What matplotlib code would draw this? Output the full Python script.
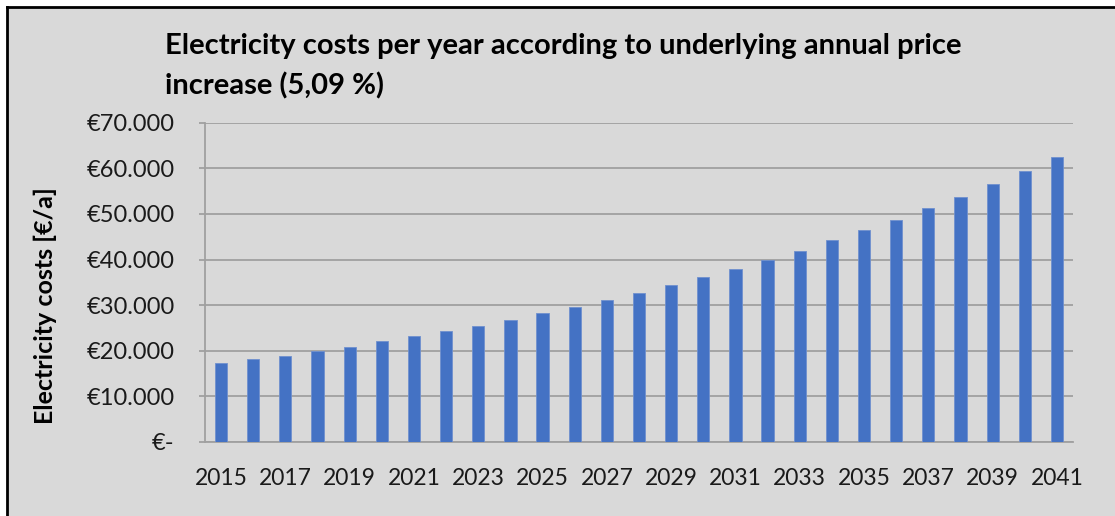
import matplotlib
matplotlib.use("Agg")
import matplotlib.pyplot as plt
from matplotlib.lines import Line2D
from matplotlib.patches import Rectangle
from matplotlib.ticker import FuncFormatter, MultipleLocator

# Annual electricity costs in euros
years = list(range(2015, 2042))
costs = [17240, 18120, 18920, 19870, 20890, 22060, 23160, 24320, 25350,
         26810, 28200, 29580, 31040, 32650, 34330, 36080, 37980, 39880,
         41930, 44190, 46460, 48720, 51200, 53760, 56540, 59310, 62380]

title = "Electricity costs per year according to underlying annual price\nincrease (5,09 %)"
y_label = "Electricity costs [€/a]"

BG = "#d9d9d9"
BAR = "#4472c4"
GRID = "#a0a0a0"
FONT = "Lato"

W, H = 1115, 516
fig = plt.figure(figsize=(W / 100, H / 100), dpi=100, facecolor="white")

# chart area with black frame on top and left
fig.add_artist(Rectangle((7 / W, 0), 1, 1 - 7 / H, transform=fig.transFigure,
                         facecolor=BG, edgecolor="none", zorder=0))
fig.add_artist(Line2D([7 / W, 1], [1 - 7 / H, 1 - 7 / H], transform=fig.transFigure,
                      color="black", lw=2, zorder=1))
fig.add_artist(Line2D([7 / W, 7 / W], [0, 1 - 7 / H], transform=fig.transFigure,
                      color="black", lw=2, zorder=1))

ax = fig.add_axes([205 / W, 1 - 442 / H, (1073 - 205) / W, (442 - 122.7) / H])
ax.set_facecolor("none")

x = list(range(len(years)))
ax.bar(x, costs, width=0.38, color=BAR, edgecolor="#6f90cf", linewidth=0.6, zorder=3)

ax.set_xlim(-0.5, len(years) - 0.5)
ax.set_ylim(0, 70000)
ax.yaxis.set_major_locator(MultipleLocator(10000))


def euro(v, _pos):
    if abs(v) < 1e-9:
        return "€-"
    return "€" + f"{int(round(v)):,}".replace(",", ".")


ax.yaxis.set_major_formatter(FuncFormatter(euro))
ax.set_xticks(x[::2])
ax.set_xticklabels([str(y) for y in years[::2]])

ax.grid(axis="y", color=GRID, linewidth=1.3, zorder=1)
ax.set_axisbelow(True)
for side in ("top", "right"):
    ax.spines[side].set_visible(False)
ax.spines["left"].set_color(GRID)
ax.spines["left"].set_linewidth(1.3)
ax.spines["bottom"].set_color(GRID)
ax.spines["bottom"].set_linewidth(1.3)

ax.tick_params(axis="y", length=4, width=1.3, color=GRID, pad=18,
               labelsize=17, labelcolor="#1a1a1a")
ax.tick_params(axis="x", length=0, pad=19, labelsize=16.5, labelcolor="#1a1a1a")
for lab in ax.get_xticklabels() + ax.get_yticklabels():
    lab.set_fontfamily(FONT)

fig.text(45 / W, 1 - 306 / H, y_label, rotation=90, ha="center", va="center",
         fontfamily=FONT, fontweight="bold", fontsize=18, color="black")

fig.text(165 / W, 1 - 33 / H, title, ha="left", va="top", fontfamily=FONT,
         fontweight="bold", fontsize=21, color="black", linespacing=1.62)

fig.savefig("out.png", dpi=100, facecolor="white")
